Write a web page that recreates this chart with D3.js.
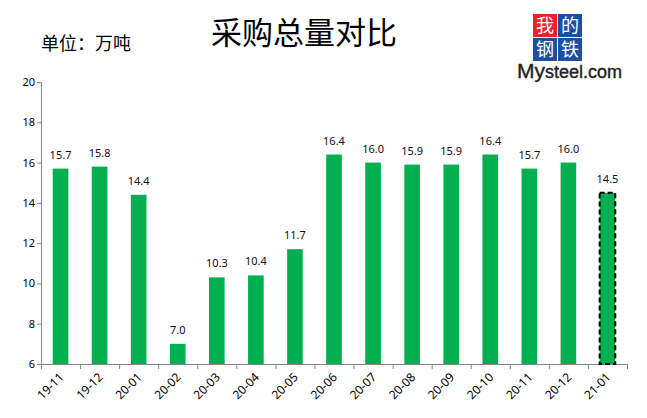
<!DOCTYPE html>
<html>
<head>
<meta charset="utf-8">
<script src="https://cdn.jsdelivr.net/npm/d3@7"></script>
<style>
  body { margin: 0; background: #fff; }
  text { font-family: "Noto Sans", "Noto Sans CJK SC", sans-serif; }
</style>
</head>
<body>
<div id="chart"></div>
<script>
// data
const months = ["19-11", "19-12", "20-01", "20-02", "20-03", "20-04", "20-05", "20-06",
                "20-07", "20-08", "20-09", "20-10", "20-11", "20-12", "21-01"]
const purchase = [15.7, 15.8, 14.4, 7.0, 10.3, 10.4, 11.7, 16.4, 16.0, 15.9, 15.9, 16.4, 15.7, 16.0, 14.5]
const yTicks = [6, 8, 10, 12, 14, 16, 18, 20]

const W = 647, H = 418
const plotL = 41, plotR = 627, plotT = 82, plotB = 364

const svg = d3.select("#chart").append("svg")
    .attr("width", W)
    .attr("height", H)

// scales
const x = d3.scaleBand()
    .domain(months)
    .range([plotL, plotR])
    .paddingInner(0.6)
    .paddingOuter(0.3)

const xEdge = d3.scaleLinear()
    .domain([0, months.length])
    .range([plotL, plotR])

const y = d3.scaleLinear()
    .domain([6, 20])
    .range([plotB, plotT])

// title + unit
svg.append("text")
    .attr("x", 304).attr("y", 44)
    .attr("text-anchor", "middle")
    .style("font-family", "'Noto Sans CJK SC'")
    .style("font-size", "31px")
    .text("采购总量对比")

svg.append("text")
    .attr("x", 41).attr("y", 50)
    .style("font-family", "'Noto Sans CJK SC'")
    .style("font-size", "18px")
    .text("单位：万吨")

// logo
const logo = svg.append("g")
const boxes = [
  { t: "我", c: "#f0202a", dx: 0, dy: 0 },
  { t: "的", c: "#1d4fa0", dx: 25, dy: 0 },
  { t: "钢", c: "#1d4fa0", dx: 0, dy: 24 },
  { t: "铁", c: "#1d4fa0", dx: 25, dy: 24 }
]
boxes.forEach(b => {
  logo.append("rect")
      .attr("x", 533 + b.dx).attr("y", 14 + b.dy)
      .attr("width", 24).attr("height", 23)
      .attr("fill", b.c)
  logo.append("text")
      .attr("x", 545 + b.dx).attr("y", 32 + b.dy)
      .attr("text-anchor", "middle")
      .attr("fill", "#fff")
      .style("font-family", "'Noto Sans CJK SC'")
      .style("font-size", "18px")
      .text(b.t)
})
const brand = logo.append("text")
    .attr("x", 517).attr("y", 78)
    .style("font-family", "'Liberation Sans', Arial, sans-serif")
    .attr("fill", "#222")
    .attr("stroke", "#222")
    .attr("stroke-width", 0.4)
brand.append("tspan").style("font-size", "21px").text("My")
brand.append("tspan").style("font-size", "18px").text("steel.com")

// axes
const yAxis = d3.axisLeft(y).tickValues(yTicks).tickSize(4).tickSizeOuter(0)
const gy = svg.append("g")
    .attr("transform", `translate(${plotL},0)`)
    .call(yAxis)
gy.select(".domain").attr("stroke", "#868686")
gy.selectAll(".tick line").attr("stroke", "#868686")
gy.selectAll(".tick text").attr("fill", "#000").style("font-size", "11px").attr("x", -6)

const xAxis = d3.axisBottom(xEdge).ticks(months.length).tickFormat("").tickSize(5).tickSizeOuter(0)
const gx = svg.append("g")
    .attr("transform", `translate(0,${plotB})`)
    .call(xAxis)
gx.select(".domain").attr("stroke", "#868686")
gx.selectAll(".tick line").attr("stroke", "#868686")

// bars
svg.selectAll("rect.bar")
    .data(purchase)
    .enter()
    .append("rect")
    .attr("class", "bar")
    .attr("x", (d, i) => x(months[i]))
    .attr("y", d => y(d))
    .attr("width", x.bandwidth())
    .attr("height", d => y(6) - y(d))
    .attr("fill", "#00b050")
    .attr("stroke", (d, i) => i === purchase.length - 1 ? "#000" : "none")
    .attr("stroke-width", 2)
    .attr("stroke-dasharray", "5,3")

// value labels
svg.selectAll("text.val")
    .data(purchase)
    .enter()
    .append("text")
    .attr("class", "val")
    .attr("x", (d, i) => x(months[i]) + x.bandwidth() / 2)
    .attr("y", d => y(d) - 10)
    .attr("text-anchor", "middle")
    .attr("fill", "#1a0a1a")
    .style("font-size", "11px")
    .text(d => d.toFixed(1))

// category labels
svg.selectAll("text.cat")
    .data(months)
    .enter()
    .append("text")
    .attr("class", "cat")
    .attr("transform", d => `translate(${x(d) + x.bandwidth() / 2 + 1},${plotB + 11}) rotate(-45)`)
    .attr("text-anchor", "end")
    .attr("dy", "0.35em")
    .style("font-size", "12px")
    .text(d => d)
</script>
</body>
</html>
